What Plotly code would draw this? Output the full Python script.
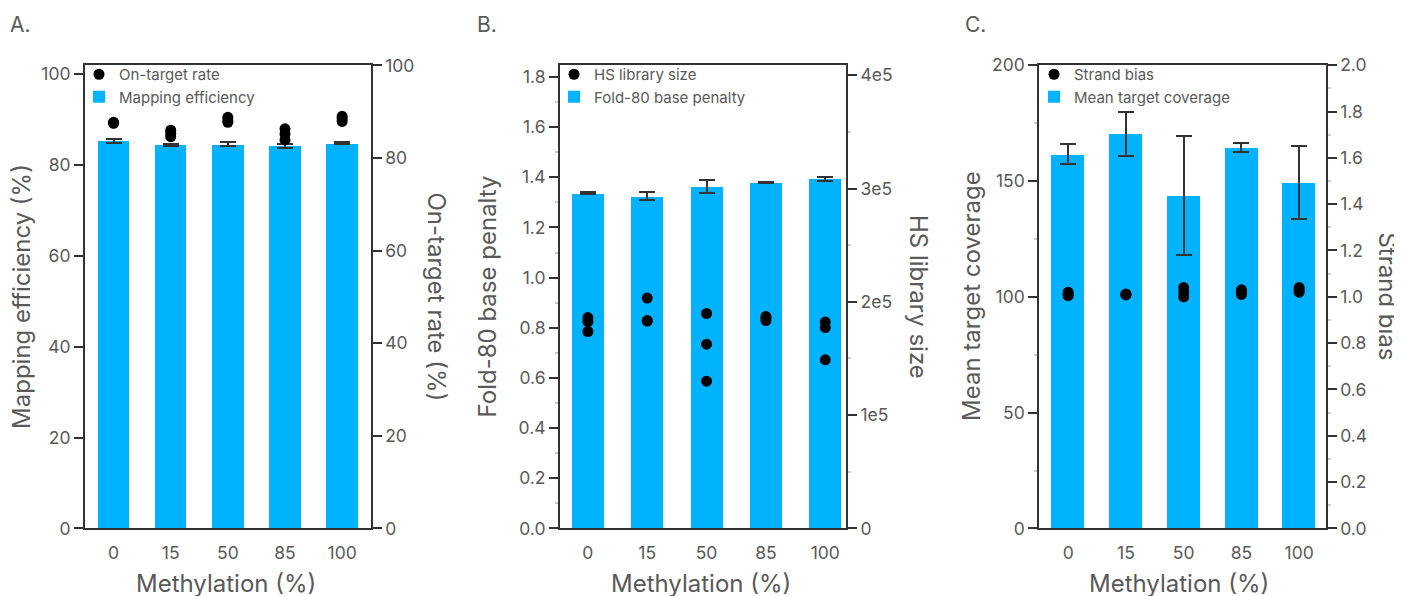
import plotly.graph_objects as go

# ---------------- data ----------------
categories = ["0", "15", "50", "85", "100"]

# Panel A
mapping_eff_mean = [85.3, 84.4, 84.6, 84.2, 84.8]
mapping_eff_err = [0.5, 0.2, 0.45, 0.5, 0.2]
on_target_reps = [[87.5, 87.7, 87.6], [86.0, 85.3, 84.6], [88.8, 88.2, 87.7],
                  [86.3, 85.2, 83.9], [89.0, 88.5, 87.9]]

# Panel B
fold80_mean = [1.337, 1.325, 1.362, 1.379, 1.394]
fold80_err = [0.005, 0.015, 0.026, 0.003, 0.007]
hs_lib_reps = [[1.861e5, 1.826e5, 1.738e5], [2.033e5, 1.835e5, 1.830e5],
               [1.897e5, 1.626e5, 1.300e5], [1.870e5, 1.855e5, 1.835e5],
               [1.821e5, 1.773e5, 1.488e5]]

# Panel C
coverage_mean = [161.6, 170.3, 143.9, 164.5, 149.3]
coverage_err = [4.2, 9.4, 25.7, 1.8, 15.9]
strand_bias_reps = [[1.02, 1.01, 1.005], [1.01, 1.012, 1.008], [1.04, 1.02, 1.0],
                    [1.03, 1.02, 1.01], [1.04, 1.03, 1.02]]

left_ticks_A = [0, 20, 40, 60, 80, 100]
right_ticks_A = [0, 20, 40, 60, 80, 100]
left_ticks_B = [0, 0.2, 0.4, 0.6, 0.8, 1.0, 1.2, 1.4, 1.6, 1.8]
right_ticks_B = [0, 1e5, 2e5, 3e5, 4e5]
right_ticktext_B = ["0", "1e5", "2e5", "3e5", "4e5"]
left_ticks_C = [0, 50, 100, 150, 200]
right_ticks_C = [0, 0.2, 0.4, 0.6, 0.8, 1.0, 1.2, 1.4, 1.6, 1.8, 2.0]

# ---------------- layout helpers ----------------
W, H = 1402, 596
OFF = 8  # page body margin: screen position = figure position + 8
FONT = "Inter, Noto Sans, sans-serif"
TXT = "#595959"
LINE = "#333333"
BAR = "#00B2FF"


def fx(x):
    return (x - OFF) / W


def fy(y):
    return 1 - (y - OFF) / H


TOP, BOT = 64.5, 528.4


def flat(reps):
    xs, ys = [], []
    for c, r in zip(categories, reps):
        for v in r:
            xs.append(c)
            ys.append(v)
    return xs, ys


fig = go.Figure()

panels = [
    dict(dots=on_target_reps, dname="On-target rate", mean=mapping_eff_mean, err=mapping_eff_err,
         bname="Mapping efficiency", width=0.55, legend="legend"),
    dict(dots=hs_lib_reps, dname="HS library size", mean=fold80_mean, err=fold80_err,
         bname="Fold-80 base penalty", width=0.54, legend="legend2"),
    dict(dots=strand_bias_reps, dname="Strand bias", mean=coverage_mean, err=coverage_err,
         bname="Mean target coverage", width=0.575, legend="legend3"),
]

for i, p in enumerate(panels):
    xa = "x" if i == 0 else f"x{i+1}"
    yl = "y" if i == 0 else f"y{2*i+1}"
    yr = f"y{2*i+2}"
    xs, ys = flat(p["dots"])
    fig.add_trace(go.Scatter(x=xs, y=ys, mode="markers", name=p["dname"],
                             marker=dict(color="black", size=11),
                             xaxis=xa, yaxis=yr, legend=p["legend"]))
    fig.add_trace(go.Bar(x=categories, y=p["mean"], name=p["bname"], width=p["width"],
                         marker=dict(color=BAR, line=dict(width=0)),
                         error_y=dict(type="data", array=p["err"], color=LINE,
                                      thickness=2, width=8),
                         xaxis=xa, yaxis=yl, legend=p["legend"]))

xdoms = [(85, 370.7), (560, 846), (1039.3, 1325.7)]
xranges = [[-0.5, 4.5], [-0.47, 4.35], [-0.5, 4.46]]
ydom = [fy(BOT), fy(TOP)]

axis_common = dict(showgrid=False, zeroline=False, showline=True, linecolor=LINE,
                   linewidth=2, automargin=False,
                   tickfont=dict(family=FONT, size=17.5, color=TXT))

layout = dict(
    width=W, height=H, margin=dict(l=0, r=0, t=0, b=0, pad=0, autoexpand=False),
    paper_bgcolor="white", plot_bgcolor="white",
    font=dict(family=FONT, color=TXT), showlegend=True, bargap=0,
)

for i in range(3):
    xkey = "xaxis" if i == 0 else f"xaxis{i+1}"
    ylkey = "yaxis" if i == 0 else f"yaxis{2*i+1}"
    yrkey = f"yaxis{2*i+2}"
    xa = "x" if i == 0 else f"x{i+1}"
    yl = "y" if i == 0 else f"y{2*i+1}"
    layout[xkey] = dict(axis_common, domain=[fx(xdoms[i][0]), fx(xdoms[i][1])],
                        anchor=yl, type="category", range=xranges[i], mirror=True,
                        ticks="outside", ticklen=8, tickcolor="rgba(0,0,0,0)",
                        categoryorder="array", categoryarray=categories)
    layout[ylkey] = dict(axis_common, domain=ydom, anchor=xa, ticks="outside", ticklen=9,
                         tickwidth=1.5, tickcolor=LINE)
    layout[yrkey] = dict(axis_common, domain=ydom, anchor=xa, overlaying=yl, side="right",
                         ticks="outside", ticklen=9, tickwidth=1.5, tickcolor=LINE)

layout["yaxis"].update(range=[0, 102.1], tickvals=left_ticks_A)
layout["yaxis2"].update(range=[0, 100.2], tickvals=right_ticks_A)
layout["yaxis3"].update(range=[0, 1.85], tickvals=left_ticks_B, tickformat=".1f",
                        minor=dict(ticks="outside", ticklen=3, tickcolor="#cccccc",
                                   tickvals=[0.1, 0.3, 0.5, 0.7, 0.9, 1.1, 1.3, 1.5, 1.7]))
layout["yaxis4"].update(range=[0, 4.095e5], tickvals=right_ticks_B, ticktext=right_ticktext_B,
                        minor=dict(ticks="outside", ticklen=3, tickcolor="#cccccc",
                                   tickvals=[0.5e5, 1.5e5, 2.5e5, 3.5e5]))
layout["yaxis5"].update(range=[0, 200.3], tickvals=left_ticks_C,
                        minor=dict(ticks="outside", ticklen=3, tickcolor="#cccccc",
                                   tickvals=[25, 75, 125, 175]))
layout["yaxis6"].update(range=[0, 2.003], tickvals=right_ticks_C, tickformat=".1f",
                        minor=dict(ticks="outside", ticklen=3, tickcolor="#cccccc",
                                   tickvals=[0.1, 0.3, 0.5, 0.7, 0.9, 1.1, 1.3, 1.5, 1.7, 1.9]))

leg_x = [79, 554, 1034]
for i, key in enumerate(["legend", "legend2", "legend3"]):
    layout[key] = dict(x=fx(leg_x[i]), y=fy(58), xanchor="left", yanchor="top",
                       bgcolor="rgba(0,0,0,0)", borderwidth=0,
                       font=dict(family=FONT, size=15, color=TXT), traceorder="normal")

fig.update_layout(**layout)

# axis titles and panel labels
ann = []
left_titles = ["Mapping efficiency (%)", "Fold-80 base penalty", "Mean target coverage"]
right_titles = ["On-target rate (%)", "HS library size", "Strand bias"]
left_tx = [21.5, 487, 971.5]
right_tx = [437, 918.5, 1388]
xt_cx = [226, 701, 1179]
labels = ["A.", "B.", "C."]
label_x = [8, 475, 963]
mid = (TOP + BOT) / 2
for i in range(3):
    ann.append(dict(text=left_titles[i], x=fx(left_tx[i]), y=fy(mid), xref="paper", yref="paper",
                    textangle=-90, showarrow=False, xanchor="center", yanchor="middle",
                    font=dict(family=FONT, size=24, color=TXT)))
    ann.append(dict(text=right_titles[i], x=fx(right_tx[i]), y=fy(mid), xref="paper", yref="paper",
                    textangle=90, showarrow=False, xanchor="center", yanchor="middle",
                    font=dict(family=FONT, size=24, color=TXT)))
    ann.append(dict(text="Methylation (%)", x=fx(xt_cx[i]), y=fy(583), xref="paper", yref="paper",
                    showarrow=False, xanchor="center", yanchor="middle",
                    font=dict(family=FONT, size=24, color=TXT)))
    ann.append(dict(text=labels[i], x=fx(label_x[i]), y=fy(24.5), xref="paper", yref="paper",
                    showarrow=False, xanchor="left", yanchor="middle",
                    font=dict(family=FONT, size=21, color=TXT)))
fig.update_layout(annotations=ann)

fig.write_html("out.html")
